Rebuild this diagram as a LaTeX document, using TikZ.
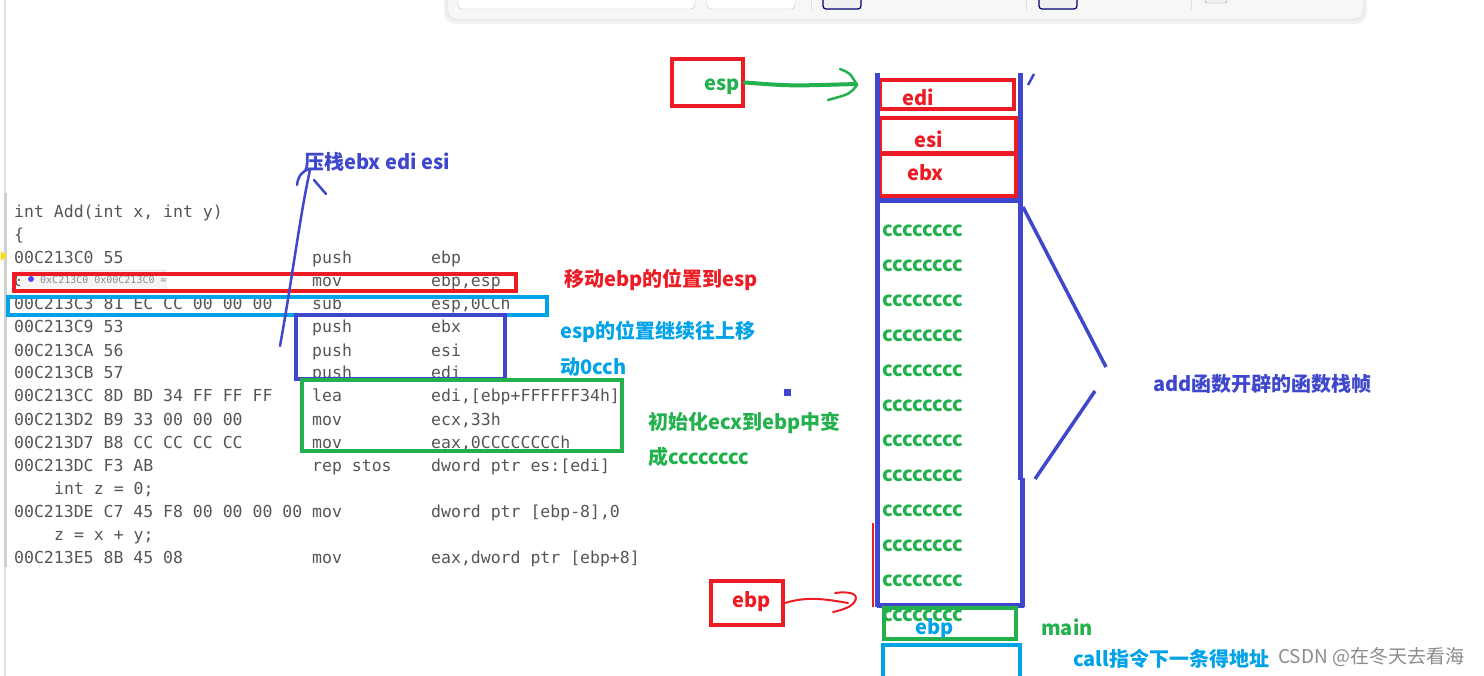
\documentclass[tikz,border=0pt]{standalone}
\usepackage{fontspec}
\newfontfamily\cjk{Noto Sans CJK SC}
\newfontfamily\codefont{DejaVu Sans Mono}
\definecolor{myred}{RGB}{237,28,36}
\definecolor{myblue}{RGB}{63,72,204}
\definecolor{mygreen}{RGB}{34,177,76}
\definecolor{mycyan}{RGB}{0,162,232}
\definecolor{codegray}{RGB}{85,85,85}
\newcommand\asmline[4]{%
  \node[code] (a#1) at (14,{218+23*#1}) {#2};
  \node[code] (m#1) at (312,{218+23*#1}) {#3};
  \node[code] (o#1) at (431,{218+23*#1}) {#4};}
\tikzset{
  code/.style={font=\codefont\fontsize{16.5}{16.5}\selectfont, text=codegray, inner sep=0pt, anchor=base west},
  lbl/.style={font=\cjk\bfseries\fontsize{20}{20}\selectfont, inner sep=0pt, anchor=west},
  ccs/.style={lbl, text=mygreen},
  boxline/.style={line width=4pt},
  hand/.style={line width=2.5pt, line cap=round, line join=round},
}
\begin{document}
\begin{tikzpicture}[x=1pt,y=-1pt]
\useasboundingbox (0,0) rectangle (1484,676);
\fill[white] (0,0) rectangle (1484,676);
% top toolbar panel
\fill[black!5, rounded corners=11] (444,-20) rectangle (1367,24);
\fill[black!8, rounded corners=10] (446,-20) rectangle (1365,21);
\filldraw[fill=black!3, draw=black!9, rounded corners=9] (448,-20) rectangle (1363,19);
\filldraw[fill=white, draw=black!25, rounded corners=4] (458,-10) rectangle (695,9);
\filldraw[fill=white, draw=black!25, rounded corners=4] (707,-10) rectangle (795,9);
\draw[black!12] (811,-5) -- (811,10);
\draw[black!12] (1026,-5) -- (1026,10);
\draw[black!12] (1191,-5) -- (1191,10);
\filldraw[fill=black!6, draw=blue!45!black, line width=1.2pt, rounded corners=3] (823,-10) rectangle (861,9);
\filldraw[fill=black!6, draw=blue!45!black, line width=1.2pt, rounded corners=3] (1039,-10) rectangle (1077,9);
\filldraw[fill=black!5, draw=black!45, rounded corners=2] (1205,-10) rectangle (1227,3);
% left editor edge
\draw[black!12, line width=1.5pt] (5,0) -- (5,676);
\draw[black!18, line width=3pt] (5,193) -- (5,567);
\fill[yellow!80!orange] (1,251) -- (7,256) -- (1,261) -- cycle;
% code listing
\asmline{0}{int Add(int x, int y)}{}{}
\asmline{1}{\{}{}{}
\asmline{2}{00C213C0 55}{push}{ebp}
\asmline{3}{0}{mov}{ebp,esp}
\asmline{4}{00C213C3 81 EC CC 00 00 00}{sub}{esp,0CCh}
\asmline{5}{00C213C9 53}{push}{ebx}
\asmline{6}{00C213CA 56}{push}{esi}
\asmline{7}{00C213CB 57}{push}{edi}
\asmline{8}{00C213CC 8D BD 34 FF FF FF}{lea}{edi,[ebp+FFFFFF34h]}
\asmline{9}{00C213D2 B9 33 00 00 00}{mov}{ecx,33h}
\asmline{10}{00C213D7 B8 CC CC CC CC}{mov}{eax,0CCCCCCCCh}
\asmline{11}{00C213DC F3 AB}{rep stos}{dword ptr es:[edi]}
\node[code] (a12) at (54,{218+23*12}) {int z = 0;};
\asmline{13}{00C213DE C7 45 F8 00 00 00 00}{mov}{dword ptr [ebp-8],0}
\node[code] (a14) at (54,{218+23*14}) {z = x + y;};
\asmline{15}{00C213E5 8B 45 08}{mov}{eax,dword ptr [ebp+8]}
% tooltip
\filldraw[fill=black!4, draw=black!25, rounded corners=3] (20,270) rectangle (166,290);
\fill[blue!70] (31,279) circle (3);
\node[code, font=\codefont\fontsize{10}{10}\selectfont, text=black!45] (tip) at (40,284) {0xC213C0 0x00C213C0 =};
% code boxes
\draw[myred, boxline] (14,274) rectangle (516,291);
\draw[mycyan, boxline] (8,297) rectangle (547,315);
\draw[myblue, boxline] (296,315) rectangle (505,379);
\draw[mygreen, boxline] (302,380) rectangle (622,451);
% left annotations
\node[lbl, text=myblue] (pushlbl) at (304,162) {压栈ebx edi esi};
\coordinate (bluetail) at (280,346);
\draw[myblue, hand] (bluetail) .. controls (292,280) and (300,215) .. (310,170);
\draw[myblue, hand] (297,185) .. controls (298,176) and (303,170) .. (310,169);
\draw[myblue, hand] (314,180) -- (326,194);
\node[lbl, text=myred] (movlbl) at (564,280) {移动ebp的位置到esp};
\node[lbl, text=mycyan] (sublbl1) at (560,332) {esp的位置继续往上移};
\node[lbl, text=mycyan] (sublbl2) at (560,367) {动0cch};
\node[lbl, text=mygreen] (initlbl1) at (648,423) {初始化ecx到ebp中变};
\node[lbl, text=mygreen] (initlbl2) at (648,457) {成cccccccc};
\fill[myblue] (784,389) rectangle (791,396);
% esp pointer
\node[draw=myred, boxline, minimum width=71, minimum height=47, inner sep=0pt] (espbox) at (707.5,82.5) {};
\node[lbl, text=mygreen] (esplbl) at (704,87) {esp};
\coordinate (stacktop) at (856,84);
\draw[mygreen, line width=4pt, line cap=round] (espbox.east) .. controls (790,86) .. (stacktop);
\draw[mygreen, hand] (840,69) .. controls (850,73) .. (857,85) .. controls (850,94) .. (828,100);
% stack: saved registers
\node[draw=myred, boxline, minimum width=134, minimum height=29, inner sep=0pt] (edibox) at (947,95) {};
\node[draw=myred, boxline, minimum width=136, minimum height=35, inner sep=0pt] (esibox) at (948,135.5) {};
\node[draw=myred, boxline, minimum width=136, minimum height=42, inner sep=0pt] (ebxbox) at (948,175) {};
\node[lbl, text=myred] (edilbl) at (902,97) {edi};
\node[lbl, text=myred] (esilbl) at (914,139) {esi};
\node[lbl, text=myred] (ebxlbl) at (907,173) {ebx};
% stack frame outline
\draw[myred, line width=1.3pt] (873,523) -- (873,607);
\draw[myblue, line width=5pt] (877,73) -- (877,607);
\draw[myblue, line width=5pt] (1020,73) -- (1020,480);
\draw[myblue, line width=5pt] (1022,478) -- (1022,607);
\draw[myblue, line width=5pt] (877,201) -- (1020,201);
\draw[myblue, line width=5pt] (877,605) -- (1024,605);
\draw[myblue, line width=2.5pt] (1028,85) -- (1034,74);
% cccccccc rows
\foreach \k in {0,...,11} {\node[ccs] (cc\k) at (882,{231+35*\k}) {cccccccc};}
% main frame part
\draw[mygreen, boxline] (884,608) rectangle (1016,639);
\node[lbl, text=mycyan] (ebpin) at (915,629) {ebp};
\draw[mycyan, boxline] (883,645) rectangle (1020,682);
\node[lbl, text=mygreen] (mainlbl) at (1041,627) {main};
\node[lbl, text=mycyan] (calllbl) at (1073,659) {call指令下一条得地址};
\node[lbl, font=\cjk\fontsize{19}{19}\selectfont, text=black!45] (csdn) at (1278,657) {CSDN @在冬天去看海};
% bracket
\coordinate (br1) at (1023,207);
\coordinate (br2) at (1106,367);
\coordinate (br3) at (1095,391);
\coordinate (br4) at (1035,479);
\draw[myblue, line width=3.5pt] (br1) -- (br2);
\draw[myblue, line width=3.5pt] (br3) -- (br4);
\node[lbl, text=myblue] (addlbl) at (1153,384) {add函数开辟的函数栈帧};
% ebp pointer
\node[draw=myred, boxline, minimum width=72, minimum height=44, inner sep=0pt] (ebpbox) at (747,603) {};
\node[lbl, text=myred] (ebplbl) at (732,602) {ebp};
\coordinate (ebptip) at (848,603);
\draw[myred, line width=2pt, line cap=round] (ebpbox.east) .. controls (805,597) and (820,598) .. (ebptip);
\draw[myred, line width=2pt, line cap=round] (835,593) .. controls (850,591) and (859,594) .. (855,601) .. controls (852,607) and (842,610) .. (833,612);
\end{tikzpicture}
\end{document}
